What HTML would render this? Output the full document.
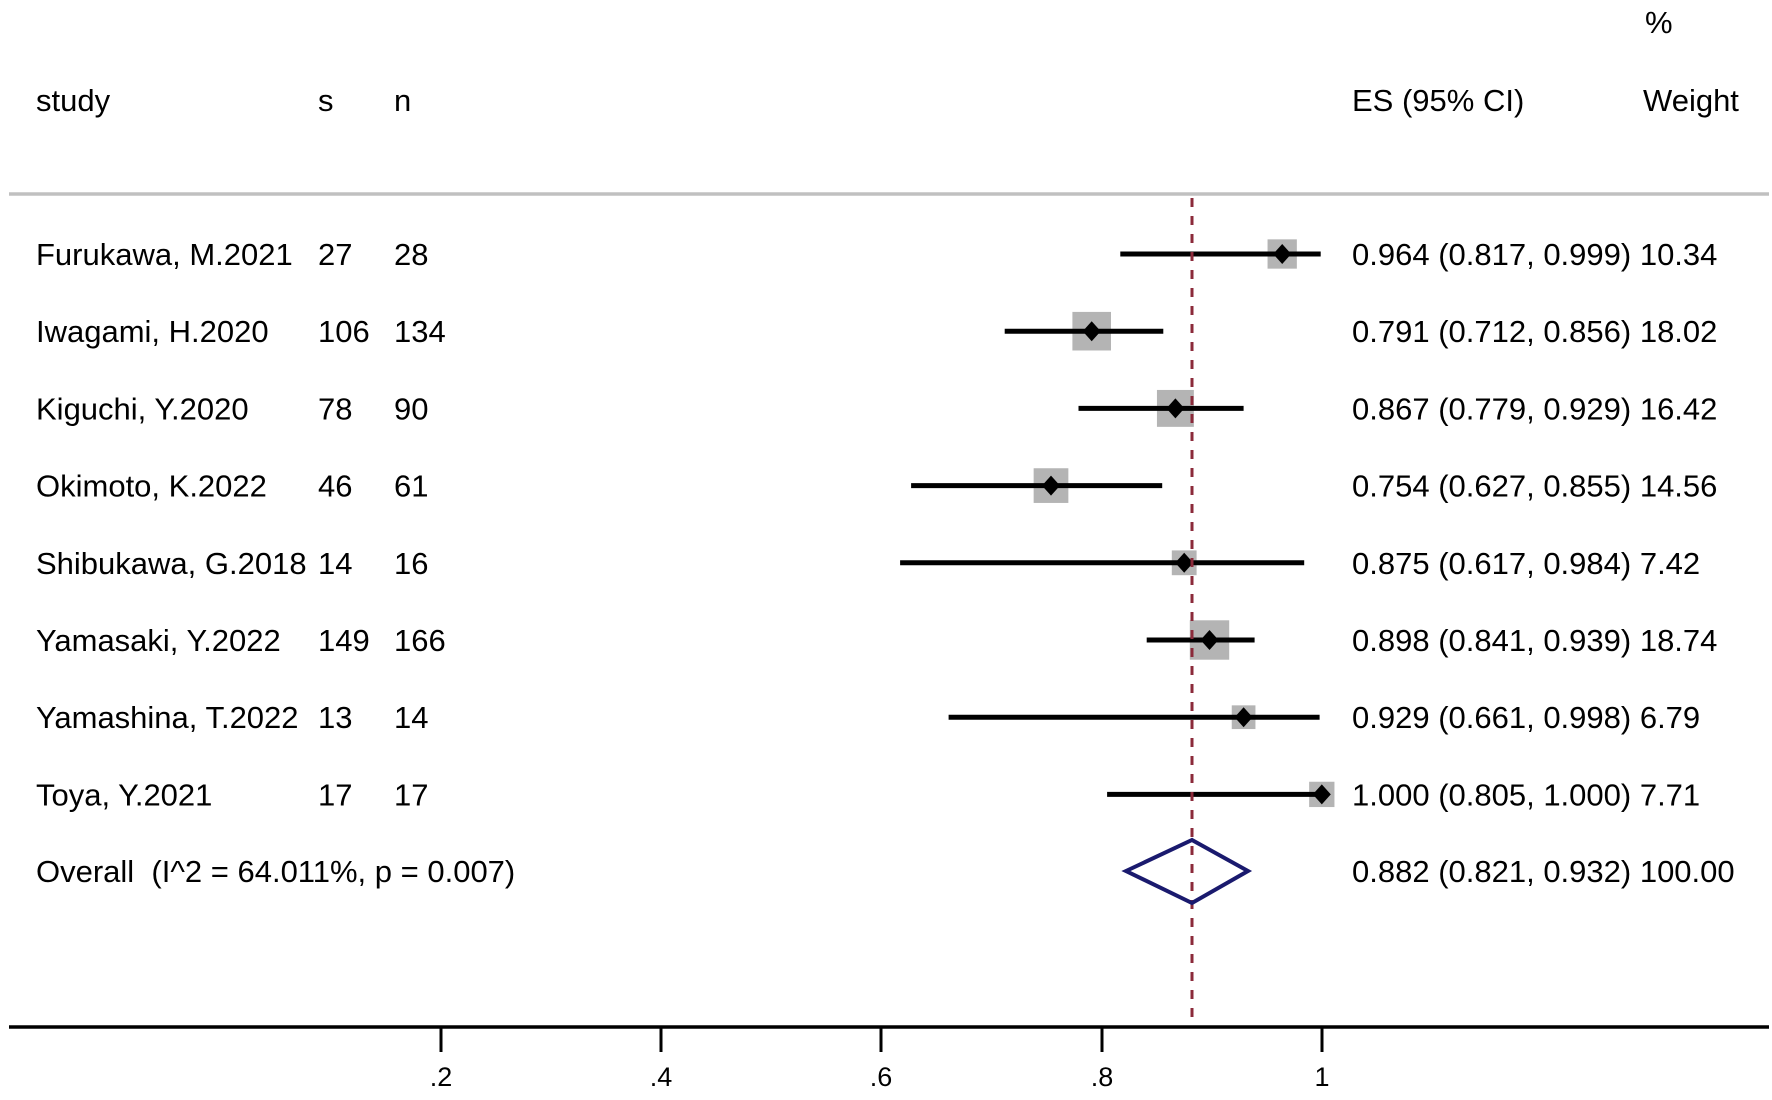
<!DOCTYPE html>
<html><head><meta charset="utf-8"><style>
html,body{margin:0;padding:0;background:#fff;}
svg text{font-family:"Liberation Sans",Arial,sans-serif;font-size:31px;fill:#000;white-space:pre;}
.t{font-size:27px;}
</style></head><body>
<svg width="1772" height="1095" viewBox="0 0 1772 1095" xmlns="http://www.w3.org/2000/svg" xml:space="preserve">
<rect width="1772" height="1095" fill="#fff"/>
<text x="1645" y="33">%</text>
<text x="36" y="111">study</text>
<text x="318" y="111">s</text>
<text x="394" y="111">n</text>
<text x="1352" y="111">ES (95% CI)</text>
<text x="1643" y="111">Weight</text>
<line x1="9" y1="194" x2="1769" y2="194" stroke="#c0c0c0" stroke-width="3.5"/>

<g transform="translate(0,254)">
<rect x="1267.55" y="-14.65" width="29.3" height="29.3" fill="#b4b4b4"/>
<line x1="1120.3" y1="0" x2="1320.7" y2="0" stroke="#000" stroke-width="5"/>
<polygon points="1273.2,0 1282.2,-10 1291.2,0 1282.2,10" fill="#000"/>
<text x="36" y="11">Furukawa, M.2021</text><text x="318" y="11">27</text><text x="394" y="11">28</text>
<text x="1352" y="11">0.964 (0.817, 0.999) 10.34</text></g>

<g transform="translate(0,331.2)">
<rect x="1072.4" y="-19.3" width="38.6" height="38.6" fill="#b4b4b4"/>
<line x1="1004.7" y1="0" x2="1163.3" y2="0" stroke="#000" stroke-width="5"/>
<polygon points="1082.7,0 1091.7,-10 1100.7,0 1091.7,10" fill="#000"/>
<text x="36" y="11">Iwagami, H.2020</text><text x="318" y="11">106</text><text x="394" y="11">134</text>
<text x="1352" y="11">0.791 (0.712, 0.856) 18.02</text></g>

<g transform="translate(0,408.4)">
<rect x="1156.95" y="-18.45" width="36.9" height="36.9" fill="#b4b4b4"/>
<line x1="1078.5" y1="0" x2="1243.6" y2="0" stroke="#000" stroke-width="5"/>
<polygon points="1166.4,0 1175.4,-10 1184.4,0 1175.4,10" fill="#000"/>
<text x="36" y="11">Kiguchi, Y.2020</text><text x="318" y="11">78</text><text x="394" y="11">90</text>
<text x="1352" y="11">0.867 (0.779, 0.929) 16.42</text></g>

<g transform="translate(0,485.6)">
<rect x="1033.65" y="-17.35" width="34.7" height="34.7" fill="#b4b4b4"/>
<line x1="911.1" y1="0" x2="1162.2" y2="0" stroke="#000" stroke-width="5"/>
<polygon points="1042,0 1051,-10 1060,0 1051,10" fill="#000"/>
<text x="36" y="11">Okimoto, K.2022</text><text x="318" y="11">46</text><text x="394" y="11">61</text>
<text x="1352" y="11">0.754 (0.627, 0.855) 14.56</text></g>

<g transform="translate(0,562.8)">
<rect x="1171.8" y="-12.4" width="24.8" height="24.8" fill="#b4b4b4"/>
<line x1="900.1" y1="0" x2="1304.2" y2="0" stroke="#000" stroke-width="5"/>
<polygon points="1175.2,0 1184.2,-10 1193.2,0 1184.2,10" fill="#000"/>
<text x="36" y="11">Shibukawa, G.2018</text><text x="318" y="11">14</text><text x="394" y="11">16</text>
<text x="1352" y="11">0.875 (0.617, 0.984) 7.42</text></g>

<g transform="translate(0,640)">
<rect x="1189.8" y="-19.7" width="39.4" height="39.4" fill="#b4b4b4"/>
<line x1="1146.7" y1="0" x2="1254.6" y2="0" stroke="#000" stroke-width="5"/>
<polygon points="1200.5,0 1209.5,-10 1218.5,0 1209.5,10" fill="#000"/>
<text x="36" y="11">Yamasaki, Y.2022</text><text x="318" y="11">149</text><text x="394" y="11">166</text>
<text x="1352" y="11">0.898 (0.841, 0.939) 18.74</text></g>

<g transform="translate(0,717.2)">
<rect x="1231.75" y="-11.85" width="23.7" height="23.7" fill="#b4b4b4"/>
<line x1="948.6" y1="0" x2="1319.6" y2="0" stroke="#000" stroke-width="5"/>
<polygon points="1234.6,0 1243.6,-10 1252.6,0 1243.6,10" fill="#000"/>
<text x="36" y="11">Yamashina, T.2022</text><text x="318" y="11">13</text><text x="394" y="11">14</text>
<text x="1352" y="11">0.929 (0.661, 0.998) 6.79</text></g>

<g transform="translate(0,794.4)">
<rect x="1309.15" y="-12.65" width="25.3" height="25.3" fill="#b4b4b4"/>
<line x1="1107.1" y1="0" x2="1321.8" y2="0" stroke="#000" stroke-width="5"/>
<polygon points="1312.8,0 1321.8,-10 1330.8,0 1321.8,10" fill="#000"/>
<text x="36" y="11">Toya, Y.2021</text><text x="318" y="11">17</text><text x="394" y="11">17</text>
<text x="1352" y="11">1.000 (0.805, 1.000) 7.71</text></g>

<line x1="1192" y1="198" x2="1192" y2="1027" stroke="#8b2a3a" stroke-width="3" stroke-dasharray="9,9"/>
<polygon points="1126,871 1192,840 1248,871 1192,903" fill="none" stroke="#1a1a6e" stroke-width="4"/>
<text x="36" y="882">Overall  (I^2 = 64.011%, p = 0.007)</text>
<text x="1352" y="882">0.882 (0.821, 0.932) 100.00</text>

<line x1="9" y1="1027" x2="1769" y2="1027" stroke="#000" stroke-width="3.5"/>
<g stroke="#000" stroke-width="3">
<line x1="441" y1="1027" x2="441" y2="1052"/><line x1="661" y1="1027" x2="661" y2="1052"/>
<line x1="881" y1="1027" x2="881" y2="1052"/><line x1="1102" y1="1027" x2="1102" y2="1052"/>
<line x1="1322" y1="1027" x2="1322" y2="1052"/></g>
<g text-anchor="middle"><text class="t" x="441" y="1086">.2</text><text class="t" x="661" y="1086">.4</text><text class="t" x="881" y="1086">.6</text><text class="t" x="1102" y="1086">.8</text><text class="t" x="1322" y="1086">1</text></g>
</svg>
</body></html>
